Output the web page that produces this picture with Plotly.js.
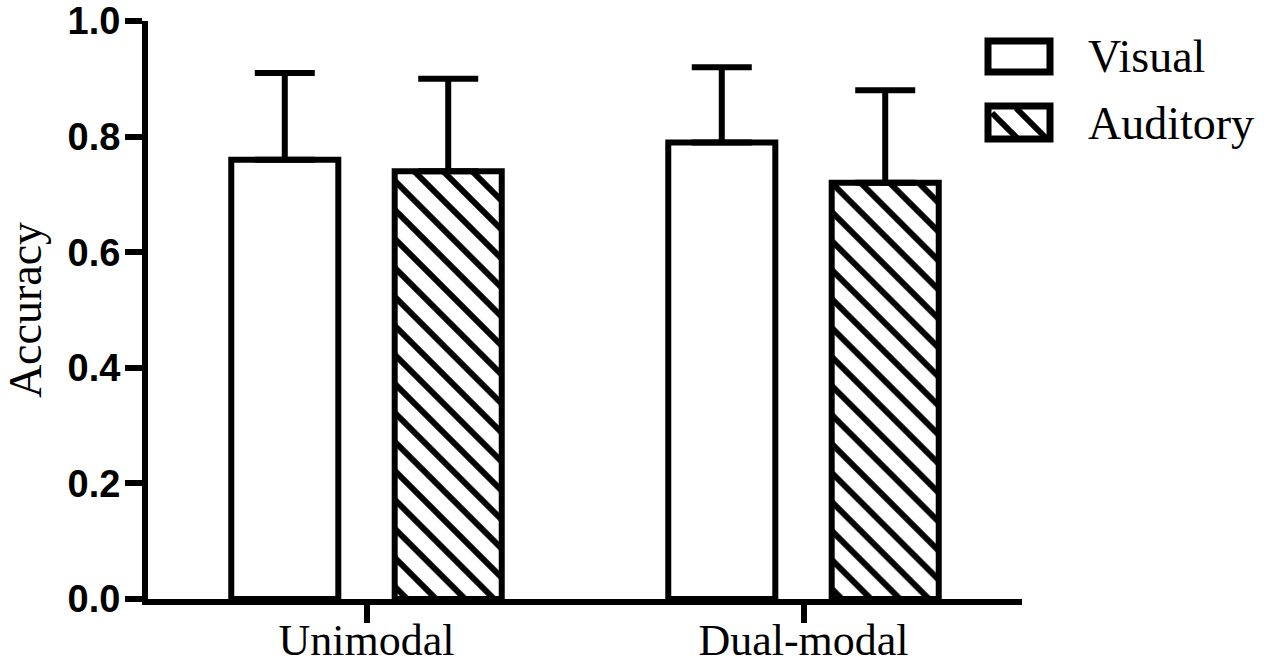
<!DOCTYPE html>
<html>
<head>
<meta charset="utf-8">
<script src="https://cdn.plot.ly/plotly-3.0.1.min.js"></script>
<style>body{margin:0;background:#fff}</style>
</head>
<body>
<div id="chart" style="width:1267px;height:666px"></div>
<script>
// accuracy per condition
let groups = ['Unimodal', 'Dual-modal'];
let seriesNames = ['Visual', 'Auditory'];
let visualMean = [0.76, 0.79];
let visualSd = [0.15, 0.13];
let auditoryMean = [0.74, 0.72];
let auditorySd = [0.16, 0.16];
let yTicks = [0, 0.2, 0.4, 0.6, 0.8, 1.0];

// plot box in pixels (used only for the hand drawn legend)
const L = 148, R = 1022, T = 21, B = 599;
function px(x) { return (x - L) / (R - L); }
function py(y) { return (B - y) / (B - T); }

const serif = 'Liberation Serif, Times New Roman, serif';
const sans = 'Liberation Sans, Arial, sans-serif';

function errs(sd) {
    return {
        type: 'data', symmetric: false,
        array: sd, arrayminus: sd.map(() => 0),
        color: 'black', thickness: 6, width: 30
    };
}

var traces = [
    {
        type: 'bar', name: seriesNames[0], x: groups, y: visualMean,
        marker: {color: 'white', line: {color: 'black', width: 6}},
        error_y: errs(visualSd)
    },
    {
        type: 'bar', name: seriesNames[1], x: groups, y: auditoryMean,
        marker: {
            color: 'white', line: {color: 'black', width: 6},
            // plotly tile is size*sqrt(2) wide, so 20.5 -> ~29px between lines along the edge
            pattern: {shape: '\\', fgcolor: 'black', bgcolor: 'white', size: 20.5, solidity: 0.29}
        },
        error_y: errs(auditorySd)
    }
];

// legend drawn by hand so the boxes can be as big as in the figure
var shapes = [
    {type: 'rect', xref: 'paper', yref: 'paper', x0: px(988), x1: px(1050), y0: py(72), y1: py(41),
     line: {color: 'black', width: 7}, fillcolor: 'white'},
    {type: 'rect', xref: 'paper', yref: 'paper', x0: px(988), x1: px(1050), y0: py(139), y1: py(106),
     line: {color: 'black', width: 7}, fillcolor: 'white'},
    {type: 'line', xref: 'paper', yref: 'paper', x0: px(992), y0: py(113), x1: px(1017), y1: py(138),
     line: {color: 'black', width: 6}},
    {type: 'line', xref: 'paper', yref: 'paper', x0: px(1016), y0: py(108), x1: px(1046), y1: py(138),
     line: {color: 'black', width: 6}}
];

var annotations = [
    {text: seriesNames[0], xref: 'paper', yref: 'paper', x: px(1086), y: py(56),
     xanchor: 'left', yanchor: 'middle', showarrow: false, font: {family: serif, size: 46, color: 'black'}},
    {text: seriesNames[1], xref: 'paper', yref: 'paper', x: px(1086), y: py(123),
     xanchor: 'left', yanchor: 'middle', showarrow: false, font: {family: serif, size: 46, color: 'black'}}
];

var layout = {
    width: 1267, height: 666,
    margin: {l: L, r: 1267 - R, t: T, b: 666 - B},
    paper_bgcolor: 'white', plot_bgcolor: 'white',
    showlegend: false,
    barmode: 'group', bargap: 0.252, bargroupgap: 0.345,
    xaxis: {
        range: [-0.5, 1.5], showgrid: false, zeroline: false,
        showline: true, linecolor: 'black', linewidth: 6,
        ticks: 'outside', ticklen: 18, tickwidth: 6, tickcolor: 'black',
        ticklabelstandoff: -21, ticklabeloverflow: 'allow',
        tickfont: {family: serif, size: 44, color: 'black'}
    },
    yaxis: {
        range: [0, 1], tickvals: yTicks, tickformat: '.1f',
        showgrid: false, zeroline: false,
        showline: true, linecolor: 'black', linewidth: 6,
        ticks: 'outside', ticklen: 17, tickwidth: 6, tickcolor: 'black',
        ticklabelstandoff: -3, ticklabeloverflow: 'allow',
        tickfont: {family: sans, size: 38, color: 'black', weight: 'bold'},
        title: {text: 'Accuracy', standoff: 18, font: {family: serif, size: 46, color: 'black'}}
    },
    shapes: shapes,
    annotations: annotations
};

Plotly.newPlot('chart', traces, layout, {displayModeBar: false, staticPlot: true});
</script>
</body>
</html>
